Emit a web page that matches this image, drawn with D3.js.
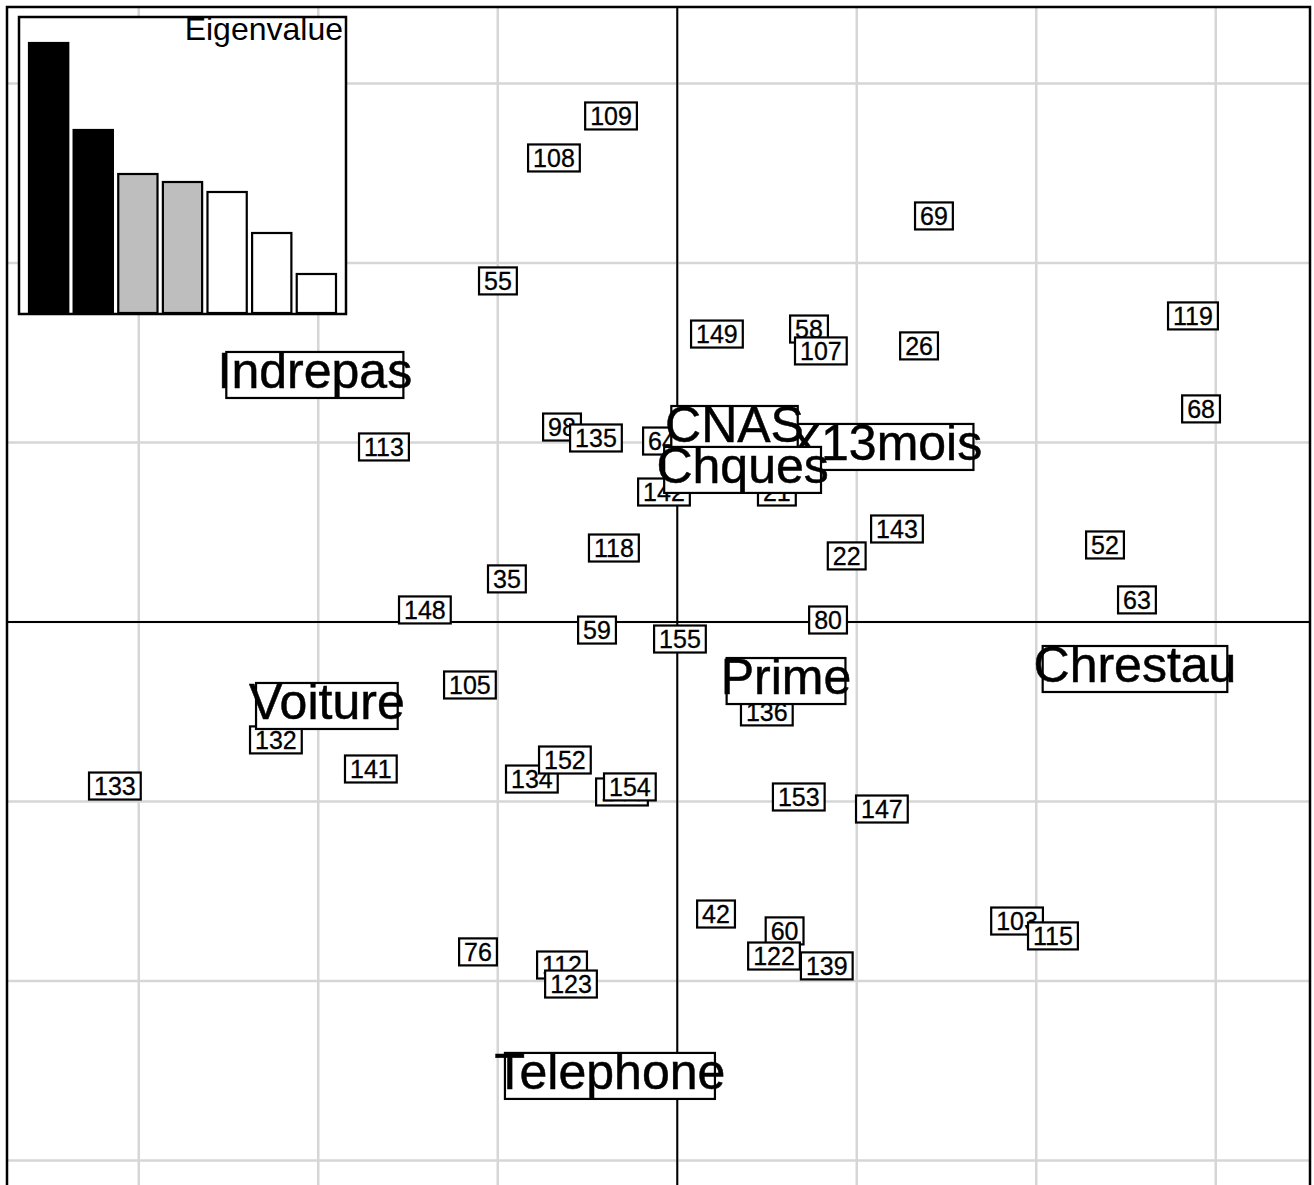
<!DOCTYPE html>
<html><head><meta charset="utf-8">
<script src="https://cdn.jsdelivr.net/npm/d3@7"></script>
<style>html,body{margin:0;padding:0;background:#fff;}svg{display:block;}</style>
</head><body>
<script>
// Row scores (individuals), in data units (1 unit = one grid cell)
const rowLabels = ["21","22","26","35","42","52","55","58","59","60","63","64","68","69","76","80","98","103","105","107","108","109","112","113","115","118","119","122","123","132","133","134","135","136","139","141","142","143","144","147","148","149","152","153","154","155"];
const rowX = [0.555,0.944,1.347,-0.949,0.216,2.383,-0.999,0.734,-0.447,0.598,2.561,-0.085,2.918,1.430,-1.110,0.840,-0.642,1.893,-1.155,0.800,-0.687,-0.369,-0.642,-1.634,2.093,-0.353,2.873,0.539,-0.592,-2.236,-3.133,-0.810,-0.453,0.499,0.833,-1.707,-0.074,1.224,-0.308,1.140,-1.406,0.221,-0.626,0.677,-0.264,0.015];
const rowY = [0.724,0.368,1.538,0.240,-1.627,0.429,1.900,1.632,-0.045,-1.721,0.123,1.008,1.187,2.262,-1.838,0.011,1.086,-1.666,-0.351,1.510,2.585,2.819,-1.911,0.975,-1.749,0.412,1.705,-1.861,-2.017,-0.657,-0.914,-0.875,1.025,-0.501,-1.916,-0.819,0.724,0.518,-0.947,-1.042,0.067,1.604,-0.769,-0.975,-0.919,-0.095];

// Column scores (variables)
const colLabels = ["Indrepas","Voiture","Telephone","X13mois","CNAS","Chques","Prime","Chrestau"];
const colX = [-2.019,-1.952,-0.375,1.157,0.319,0.364,0.606,2.550];
const colY = [1.376,-0.468,-2.529,0.975,1.075,0.847,-0.329,-0.262];

// Eigenvalues
const eigValues = [0.270,0.183,0.139,0.131,0.121,0.080,0.039];
const eigFill = ["#000000","#000000","#bebebe","#bebebe","#ffffff","#ffffff","#ffffff"];
const gridTicks = [-3,-2,-1,0,1,2,3];

const W = 1314, H = 1185;
const svg = d3.select("body").append("svg").attr("width", W).attr("height", H);
const font = "Arial, 'Liberation Sans', sans-serif";

const x = d3.scaleLinear().domain([-3.734, 3.525]).range([7, 1310]);
const y = d3.scaleLinear().domain([3.426, -3.833]).range([7, 1310]);

// grid
const g = svg.append("g");
g.selectAll("line.gv").data(gridTicks).join("line")
  .attr("x1", d => x(d)).attr("x2", d => x(d)).attr("y1", 7).attr("y2", 1310)
  .attr("stroke", "#d6d6d6").attr("stroke-width", 2.5);
g.selectAll("line.gh").data(gridTicks).join("line")
  .attr("y1", d => y(d)).attr("y2", d => y(d)).attr("x1", 7).attr("x2", 1310)
  .attr("stroke", "#d6d6d6").attr("stroke-width", 2.5);
// axes through origin
g.append("line").attr("x1", x(0)).attr("x2", x(0)).attr("y1", 7).attr("y2", 1310).attr("stroke", "#000").attr("stroke-width", 2);
g.append("line").attr("y1", y(0)).attr("y2", y(0)).attr("x1", 7).attr("x2", 1310).attr("stroke", "#000").attr("stroke-width", 2);

function drawLabel(parent, label, px, py, fs, big) {
  const grp = parent.append("g");
  const rect = grp.append("rect");
  const t = grp.append("text").text(label)
    .attr("x", px).attr("y", py + (big ? 13 : 9))
    .attr("text-anchor", "middle").attr("font-family", font).attr("font-size", fs)
    .attr("fill", "#000").attr("stroke", "#000").attr("stroke-width", big ? 0.5 : 0.3);
  const tw = t.node().getComputedTextLength();
  const bw = big ? tw * 0.91 : tw + 10;
  const bh = big ? 46 : 27;
  rect.attr("x", px - bw / 2).attr("y", py - bh / 2).attr("width", bw).attr("height", bh)
    .attr("fill", "#fff").attr("stroke", "#000").attr("stroke-width", 2.2);
}

const lab = svg.append("g");
rowLabels.forEach((l, i) => drawLabel(lab, l, x(rowX[i]), y(rowY[i]), 25, false));
colLabels.forEach((l, i) => drawLabel(lab, l, x(colX[i]), y(colY[i]), 50, true));

// eigenvalue inset
const ins = svg.append("g");
const ix0 = 19, ix1 = 346, iy0 = 17, iy1 = 314;
ins.append("rect").attr("x", ix0).attr("y", iy0).attr("width", ix1 - ix0).attr("height", iy1 - iy0).attr("fill", "#fff");
svg.append("clipPath").attr("id", "insclip").append("rect").attr("x", ix0).attr("y", iy0).attr("width", ix1 - ix0).attr("height", iy1 - iy0);
const bx = d3.scaleBand().domain(d3.range(eigValues.length)).range([29, 336]).paddingInner(0.12).paddingOuter(0);
const by = d3.scaleLinear().domain([0, d3.max(eigValues)]).range([313, 43]);
ins.selectAll("rect.bar").data(eigValues).join("rect").attr("class", "bar")
  .attr("x", (d, i) => bx(i)).attr("width", bx.bandwidth())
  .attr("y", d => by(d)).attr("height", d => by(0) - by(d))
  .attr("fill", (d, i) => eigFill[i]).attr("stroke", "#000").attr("stroke-width", 2.2);
ins.append("text").text("Eigenvalue").attr("x", 343).attr("y", 40).attr("text-anchor", "end")
  .attr("font-family", font).attr("font-size", 32).attr("fill", "#000").attr("clip-path", "url(#insclip)");
ins.append("rect").attr("x", ix0).attr("y", iy0).attr("width", ix1 - ix0).attr("height", iy1 - iy0)
  .attr("fill", "none").attr("stroke", "#000").attr("stroke-width", 2.5);

// main frame
svg.append("rect").attr("x", 7).attr("y", 7).attr("width", 1303).attr("height", 1303)
  .attr("fill", "none").attr("stroke", "#000").attr("stroke-width", 2.5);
</script>
</body></html>
